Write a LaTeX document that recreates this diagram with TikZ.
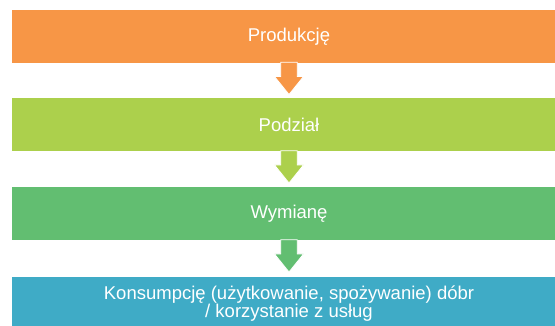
\documentclass[tikz,border=0pt]{standalone}
\usepackage{fontspec}
\setmainfont{Liberation Sans}
\definecolor{cOrange}{RGB}{247,150,70}
\definecolor{cLime}{RGB}{172,208,76}
\definecolor{cGreen}{RGB}{98,190,113}
\definecolor{cBlue}{RGB}{63,171,198}
\tikzset{
  box/.style={rectangle, minimum width=554pt, minimum height=53pt, inner sep=0pt,
    text=white, align=center, font=\fontsize{18.5}{16.5}\selectfont},
  blockarr/.style={fill=#1, draw=white, line width=0.8pt, line join=miter}
}
\begin{document}
\begin{tikzpicture}[x=1pt,y=-1pt]
\useasboundingbox (0,0) rectangle (555,326);
\node[box, fill=cOrange] (a) at (289,36.5) {Produkcję};
\node[box, fill=cLime] (b) at (289,125) {Podział};
\node[box, fill=cGreen] (c) at (289,214) {Wymianę};
\node[box, fill=cBlue] (d) at (289,303.5) {Konsumpcję (użytkowanie, spożywanie) dóbr\\/ korzystanie z usług};
\foreach \s/\col in {a/cOrange, b/cLime, c/cGreen}{
  \path[blockarr=\col] ([xshift=-8.3pt,yshift=1pt]\s.south) -- ++(0,14.3) -- ++(-6.2,0)
    -- ++(14.5,18) -- ++(14.5,-18) -- ++(-6.2,0) -- ++(0,-14.3) -- cycle;
}
\end{tikzpicture}
\end{document}
